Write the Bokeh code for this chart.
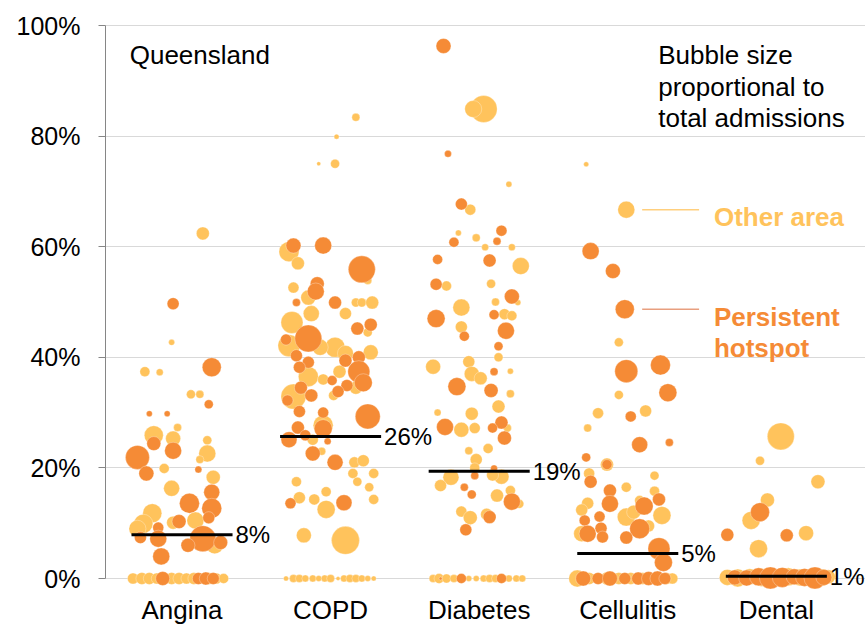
import math
from bokeh.plotting import figure
from bokeh.models import Range1d, FixedTicker, PrintfTickFormatter, ColumnDataSource
from bokeh.embed import file_html
from bokeh.resources import INLINE
from bokeh.core.properties import value

# ---------------- data ----------------
CATEGORIES = ["Angina", "COPD", "Diabetes", "Cellulitis", "Dental"]
MEDIANS = [7.9, 25.7, 19.4, 4.5, 0.4]
MEDIAN_LABELS = ["8%", "26%", "19%", "5%", "1%"]
Y_TICKS = [0, 20, 40, 60, 80, 100]

# jitter (category units), rate (%), total admissions
ANGINA_OTHER_JIT = [0.14, -0.25, -0.15, -0.07, 0.06, 0.12, -0.03, -0.19, -0.06, 0.17, 0.17, 0.12, -0.12, 0.21,
                    -0.07, -0.20, -0.26, 0.09, -0.06, 0.22, 0.12, -0.30,
                    -0.33, -0.27, -0.22, -0.17, -0.12, -0.07, -0.02, 0.03, 0.08, 0.13, 0.18, 0.23, 0.28]
ANGINA_OTHER_RATE = [62.4, 37.4, 37.3, 42.7, 33.3, 33.3, 27.3, 25.9, 25.3, 25.0, 22.6, 21.5, 19.9, 18.3,
                     16.3, 11.8, 9.9, 10.5, 10.1, 6.0, 7.0, 9.0,
                     0, 0, 0, 0, 0, 0, 0, 0, 0, 0, 0, 0, 0]
ANGINA_OTHER_ADM = [169, 100, 49, 36, 81, 64, 64, 361, 225, 81, 289, 64, 100, 196,
                    256, 361, 361, 289, 169, 289, 256, 289,
                    121, 144, 144, 121, 144, 144, 144, 121, 144, 121, 144, 121, 100]
ANGINA_HOT_JIT = [-0.06, 0.20, 0.18, -0.22, -0.10, -0.19, -0.06, -0.30, -0.24, 0.11, 0.20, 0.05, 0.20, -0.02,
                  -0.16, 0.18, -0.28, -0.16, 0.14, 0.04, 0.26, -0.14,
                  -0.13, 0.11, 0.16, 0.21]
ANGINA_HOT_RATE = [49.7, 38.2, 31.5, 29.8, 29.8, 24.4, 23.1, 21.9, 19.0, 19.7, 15.6, 13.6, 12.7, 10.3,
                   9.2, 11.0, 7.4, 7.2, 7.2, 6.0, 6.5, 4.0,
                   0, 0, 0, 0]
ANGINA_HOT_ADM = [144, 361, 81, 36, 36, 196, 289, 576, 225, 49, 256, 400, 400, 196,
                  121, 144, 144, 289, 676, 196, 196, 289,
                  196, 144, 169, 144]

COPD_OTHER_JIT = [0.17, 0.04, -0.08, 0.03, -0.28, -0.22, 0.25, -0.25, -0.15, 0.17, 0.21, 0.28, 0.10, -0.13,
                  -0.26, 0.25, -0.28, 0.03, -0.07, 0.10, 0.27, -0.15, -0.05, 0.06, 0.17, -0.25, 0.02,
                  -0.05, -0.12, -0.06, 0.16, 0.22, 0.15, 0.29, -0.23, 0.18, 0.26, -0.03, -0.21, -0.11,
                  -0.03, 0.29, -0.18, 0.10,
                  -0.30, -0.25, -0.21, -0.17, -0.12, -0.08, -0.04, 0.00, 0.05, 0.09, 0.13, 0.17, 0.21, 0.25, 0.29]
COPD_OTHER_RATE = [83.4, 79.9, 75.0, 75.0, 59.1, 57.0, 53.9, 52.6, 50.8, 49.9, 49.9, 49.9, 47.9, 47.9,
                   46.3, 44.5, 42.1, 41.8, 41.8, 40.7, 40.9, 36.5, 36.0, 37.4, 34.5, 32.9, 33.1,
                   27.7, 25.1, 23.0, 21.0, 21.3, 19.0, 19.0, 17.5, 17.5, 16.5, 15.7, 14.6, 14.3,
                   12.5, 14.3, 7.8, 6.9,
                   0, 0, 0, 0, 0, 0, 0, 0, 0, 0, 0, 0, 0, 0, 0]
COPD_OTHER_ADM = [64, 25, 16, 81, 400, 169, 64, 121, 225, 81, 81, 169, 144, 256,
                  484, 81, 484, 400, 256, 256, 225, 400, 121, 169, 169, 625, 100,
                  400, 121, 64, 121, 144, 100, 100, 100, 81, 81, 100, 144, 121,
                  324, 100, 225, 784,
                  25, 64, 64, 49, 49, 36, 49, 64, 16, 49, 64, 64, 49, 36, 25]
COPD_HOT_JIT = [-0.25, -0.05, 0.21, -0.09, -0.10, -0.23, 0.03, 0.18, 0.27, -0.15, -0.30, 0.10, 0.19, -0.23,
                -0.15, -0.21, 0.19, 0.22, 0.01, 0.11, 0.05, -0.20, -0.13, -0.29, -0.21, 0.25, -0.05,
                -0.05, -0.22, -0.28, -0.17, -0.02, -0.12, 0.03, -0.27, 0.09]
COPD_HOT_RATE = [60.2, 60.2, 55.9, 53.3, 51.9, 49.9, 49.9, 45.2, 45.9, 43.4, 43.2, 39.4, 40.0, 40.3,
                 39.1, 38.2, 37.4, 35.4, 35.8, 34.9, 33.8, 34.5, 33.1, 32.2, 30.2, 29.3, 30.0,
                 27.1, 27.3, 25.1, 25.9, 24.8, 22.6, 21.0, 13.6, 13.7]
COPD_HOT_ADM = [225, 289, 729, 196, 289, 64, 169, 169, 169, 729, 121, 169, 169, 144,
                144, 144, 484, 324, 100, 144, 144, 169, 169, 121, 144, 625, 121,
                324, 169, 256, 121, 49, 225, 256, 121, 256]

DIABETES_OTHER_JIT = [0.03, -0.04, 0.20, -0.06, -0.14, -0.02, 0.04, 0.22, 0.28, -0.22, 0.08, 0.11, 0.26, -0.12,
                      0.17, 0.22, -0.12, 0.13, -0.31, -0.07, -0.05, 0.01, 0.21, 0.21, 0.13, -0.28, -0.05,
                      -0.12, -0.03, 0.19, -0.07, 0.06, -0.02, -0.03, -0.19, -0.26, 0.15, 0.09, 0.12, 0.21,
                      0.27, -0.12, -0.06, 0.05,
                      -0.31, -0.27, -0.22, -0.17, -0.12, -0.07, -0.02, 0.03, 0.07, 0.11, 0.16, 0.20, 0.25, 0.29]
DIABETES_OTHER_RATE = [84.9, 84.9, 71.3, 66.7, 62.5, 61.6, 59.9, 59.9, 56.5, 52.9, 53.3, 50.0, 49.9, 49.0,
                       47.8, 47.5, 45.5, 40.0, 38.3, 39.2, 37.0, 36.2, 37.5, 33.4, 31.1, 30.0, 29.8,
                       26.9, 27.2, 27.2, 23.1, 23.5, 21.5, 20.0, 18.3, 16.8, 18.4, 18.7, 15.0, 15.9,
                       13.5, 12.1, 11.0, 11.6,
                       0, 0, 0, 0, 0, 0, 0, 0, 0, 0, 0, 0, 0, 0]
DIABETES_OTHER_ADM = [729, 289, 36, 121, 36, 64, 49, 49, 289, 100, 81, 64, 36, 289,
                      121, 100, 144, 81, 225, 144, 225, 169, 36, 64, 169, 49, 169,
                      225, 121, 64, 64, 100, 144, 100, 256, 144, 225, 144, 169, 100,
                      81, 121, 196, 144,
                      64, 100, 81, 64, 49, 36, 36, 49, 64, 64, 64, 49, 49, 49]
DIABETES_HOT_JIT = [-0.24, -0.21, -0.12, 0.15, -0.17, 0.12, -0.28, 0.07, -0.29, 0.22, -0.29, 0.10, 0.18, -0.10,
                    0.13, 0.10, -0.15, 0.08, -0.23, 0.15, 0.09, 0.17, -0.03, 0.10, -0.10, -0.05, 0.22,
                    0.07, -0.09,
                    -0.26, -0.12, 0.15]
DIABETES_HOT_RATE = [96.3, 76.8, 67.7, 62.9, 60.8, 61.0, 57.7, 57.5, 53.2, 51.0, 47.0, 47.7, 44.8, 43.8,
                     42.0, 37.4, 34.7, 34.0, 27.4, 28.2, 27.2, 25.4, 18.6, 19.9, 16.5, 15.2, 13.9,
                     11.1, 8.8,
                     0, 0, 0]
DIABETES_HOT_ADM = [225, 49, 144, 121, 100, 64, 100, 169, 144, 225, 324, 100, 289, 100,
                    81, 64, 324, 196, 289, 169, 100, 196, 64, 49, 64, 81, 289,
                    169, 144,
                    9, 100, 100]

CELLULITIS_OTHER_JIT = [-0.28, -0.01, -0.06, -0.06, -0.20, 0.12, -0.27, -0.14, -0.26, 0.18, -0.01, 0.18,
                        -0.27, -0.31, 0.08, 0.23, -0.01, 0.04, -0.31, 0.14,
                        -0.34, -0.26, -0.14, -0.06, 0.02, 0.10, 0.19, 0.26, 0.30]
CELLULITIS_OTHER_RATE = [74.9, 66.7, 42.7, 33.2, 29.9, 30.3, 27.2, 20.6, 19.0, 18.6, 16.5, 15.8,
                         13.6, 12.4, 14.1, 11.4, 11.1, 12.0, 8.1, 9.5,
                         0, 0, 0, 0, 0, 0, 0, 0, 0]
CELLULITIS_OTHER_ADM = [25, 289, 81, 81, 121, 144, 64, 169, 121, 81, 100, 100,
                        144, 144, 100, 324, 324, 196, 256, 144,
                        289, 144, 169, 144, 144, 144, 169, 144, 121]
CELLULITIS_HOT_JIT = [-0.25, -0.10, -0.02, -0.01, 0.22, 0.27, 0.02, 0.08, 0.28, -0.28, -0.14, -0.25, -0.12,
                      0.21, -0.12, 0.11, -0.29, -0.19, -0.18, -0.27, -0.17, 0.08, -0.01, 0.21, 0.24,
                      -0.30, -0.20, -0.12, -0.02, 0.07, 0.14, 0.20, 0.25]
CELLULITIS_HOT_RATE = [59.2, 55.6, 48.7, 37.5, 38.6, 33.6, 29.3, 24.2, 24.6, 21.9, 20.6, 17.5, 15.9,
                       14.3, 13.5, 13.1, 10.5, 11.2, 9.1, 8.1, 7.5, 9.0, 7.4, 5.4, 2.9,
                       0, 0, 0, 0, 0, 0, 0, 0]
CELLULITIS_HOT_ADM = [289, 225, 361, 529, 400, 324, 121, 256, 64, 81, 100, 169, 169,
                      169, 289, 324, 121, 121, 144, 289, 144, 400, 169, 484, 324,
                      225, 144, 225, 144, 169, 196, 225, 144]

DENTAL_OTHER_JIT = [0.03, -0.11, 0.28, -0.06, -0.17, 0.20, -0.12,
                    -0.33, -0.26, -0.18, -0.10, 0.00, 0.08, 0.16, 0.24, 0.31, 0.35]
DENTAL_OTHER_RATE = [25.7, 21.3, 17.5, 14.2, 10.5, 8.2, 5.4,
                     0.2, 0.1, 0.3, 0.2, 0.1, 0.3, 0.2, 0.1, 0.2, 0.3]
DENTAL_OTHER_ADM = [729, 81, 196, 196, 324, 225, 324,
                    256, 324, 256, 324, 289, 324, 289, 324, 289, 196]
DENTAL_HOT_JIT = [-0.11, -0.33, 0.07,
                  -0.28, -0.20, -0.12, -0.04, 0.04, 0.12, 0.19, 0.26, 0.32]
DENTAL_HOT_RATE = [12.0, 7.9, 7.8,
                   0.2, 0.1, 0.3, 0.1, 0.2, 0.3, 0.2, 0.1, 0.2]
DENTAL_HOT_ADM = [361, 169, 169,
                  225, 256, 324, 484, 400, 256, 324, 484, 256]

OTHER = [(ANGINA_OTHER_JIT, ANGINA_OTHER_RATE, ANGINA_OTHER_ADM),
         (COPD_OTHER_JIT, COPD_OTHER_RATE, COPD_OTHER_ADM),
         (DIABETES_OTHER_JIT, DIABETES_OTHER_RATE, DIABETES_OTHER_ADM),
         (CELLULITIS_OTHER_JIT, CELLULITIS_OTHER_RATE, CELLULITIS_OTHER_ADM),
         (DENTAL_OTHER_JIT, DENTAL_OTHER_RATE, DENTAL_OTHER_ADM)]
HOT = [(ANGINA_HOT_JIT, ANGINA_HOT_RATE, ANGINA_HOT_ADM),
       (COPD_HOT_JIT, COPD_HOT_RATE, COPD_HOT_ADM),
       (DIABETES_HOT_JIT, DIABETES_HOT_RATE, DIABETES_HOT_ADM),
       (CELLULITIS_HOT_JIT, CELLULITIS_HOT_RATE, CELLULITIS_HOT_ADM),
       (DENTAL_HOT_JIT, DENTAL_HOT_RATE, DENTAL_HOT_ADM)]

# ---------------- style ----------------
LIGHT = "#FFC35C"
DARK = "#F58B36"
FONT = "Liberation Sans"
W, H = 865, 627
TOP, BOTTOM, LEFT = 24, 33, 105
PX_PER_PCT = 5.53
frame_h = H - TOP - BOTTOM
y_end = 100 + 1 / PX_PER_PCT
y_start = y_end - frame_h / PX_PER_PCT


def build(groups):
    xs, ys, ss = [], [], []
    for i, (jit, rate, adm) in enumerate(groups):
        for j, r, a in zip(jit, rate, adm):
            xs.append(i + j)
            ys.append(r)
            ss.append(math.sqrt(a))
    return ColumnDataSource(dict(x=xs, y=ys, s=ss))


p = figure(width=W, height=H, output_backend="svg", toolbar_location=None,
           x_range=Range1d(-0.515, 4.6), y_range=Range1d(y_start, y_end),
           min_border_left=LEFT, min_border_right=0, min_border_top=TOP, min_border_bottom=BOTTOM)
p.outline_line_color = None
p.background_fill_color = "white"
p.border_fill_color = "white"

# axes
p.yaxis.ticker = FixedTicker(ticks=Y_TICKS)
p.yaxis.formatter = PrintfTickFormatter(format="%d%%")
p.yaxis.bounds = (0, 100)
p.yaxis.axis_line_color = "#868686"
p.yaxis.major_tick_line_color = "#868686"
p.yaxis.major_tick_out = 7
p.yaxis.major_tick_in = 0
p.yaxis.minor_tick_line_color = None
p.yaxis.major_label_standoff = 18
p.yaxis.major_label_text_font = FONT
p.yaxis.major_label_text_font_size = "25px"
p.yaxis.major_label_text_color = "black"

p.xaxis.ticker = FixedTicker(ticks=list(range(len(CATEGORIES))))
p.xaxis.major_label_overrides = {i: c for i, c in enumerate(CATEGORIES)}
p.xaxis.axis_line_color = None
p.xaxis.major_tick_line_color = None
p.xaxis.minor_tick_line_color = None
p.xaxis.major_tick_out = 0
p.xaxis.major_tick_in = 0
p.xaxis.major_label_standoff = 0
p.xaxis.major_label_text_font = FONT
p.xaxis.major_label_text_font_size = "26px"
p.xaxis.major_label_text_color = "black"

p.xgrid.visible = False
p.ygrid.grid_line_color = "#D9D9D9"
p.ygrid.grid_line_width = 1

# bubbles
p.scatter("x", "y", size="s", source=build(OTHER), fill_color=LIGHT,
          line_color="white", line_width=0.6, line_alpha=0.5)
p.scatter("x", "y", size="s", source=build(HOT), fill_color=DARK,
          line_color="white", line_width=0.6, line_alpha=0.5)

# medians
n = len(CATEGORIES)
half = 0.34
p.segment(x0=[i - half for i in range(n)], y0=MEDIANS,
          x1=[i + half for i in range(n)], y1=MEDIANS,
          line_color="black", line_width=3)
p.text(x=[i + half + 0.02 for i in range(n)], y=MEDIANS, text=MEDIAN_LABELS,
       text_font=value(FONT), text_font_size="24px", text_baseline="middle",
       text_align="left", text_color="black")

# annotations
p.text(x=[-0.352], y=[94.6], text=["Queensland"], text_font=value(FONT),
       text_font_size="26px", text_baseline="alphabetic", text_align="left", text_color="black")
p.text(x=[3.205, 3.205, 3.205], y=[94.6, 88.9, 83.2],
       text=["Bubble size", "proportional to", "total admissions"], text_font=value(FONT),
       text_font_size="26px", text_baseline="alphabetic", text_align="left", text_color="black")

# legend call-outs (point at the Cellulitis bubbles at 66.7% and 48.7%)
p.segment(x0=[3.097], y0=[66.7], x1=[3.480], y1=[66.7], line_color=LIGHT, line_alpha=0.8, line_width=1.5)
p.segment(x0=[3.097], y0=[48.7], x1=[3.480], y1=[48.7], line_color="#E2875F", line_alpha=0.8, line_width=1.5)
p.text(x=[3.580], y=[65.3], text=["Other area"], text_font=value(FONT), text_font_size="26px",
       text_font_style="bold", text_baseline="alphabetic", text_align="left", text_color=LIGHT)
p.text(x=[3.580, 3.580], y=[47.2, 41.6], text=["Persistent", "hotspot"], text_font=value(FONT),
       text_font_size="26px", text_font_style="bold", text_baseline="alphabetic", text_align="left",
       text_color=DARK)

open("out.html", "w").write(file_html(p, INLINE))
